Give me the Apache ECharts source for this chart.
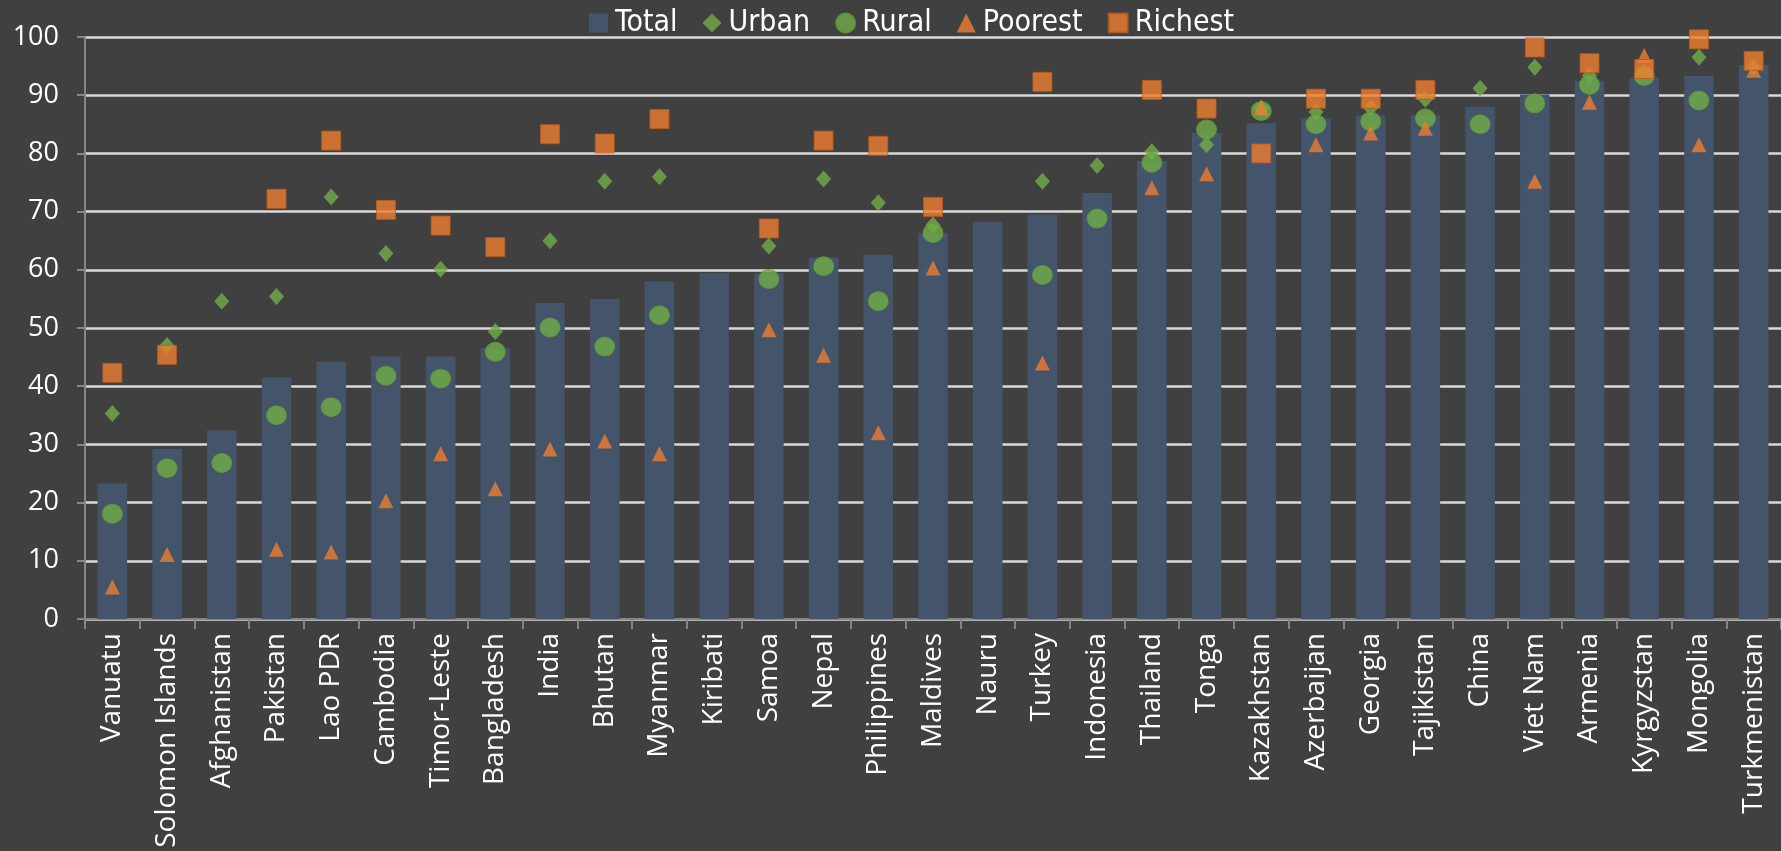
<!DOCTYPE html>
<html>
<head>
<meta charset="utf-8">
<script src="https://cdn.jsdelivr.net/npm/echarts@6/dist/echarts.min.js"></script>
<style>
  html, body { margin: 0; padding: 0; background: #404040; }
  #chart { width: 1781px; height: 851px; }
</style>
</head>
<body>
<div id="chart"></div>
<script>
// 国家
const countries = ['Vanuatu', 'Solomon Islands', 'Afghanistan', 'Pakistan', 'Lao PDR', 'Cambodia',
  'Timor-Leste', 'Bangladesh', 'India', 'Bhutan', 'Myanmar', 'Kiribati', 'Samoa', 'Nepal',
  'Philippines', 'Maldives', 'Nauru', 'Turkey', 'Indonesia', 'Thailand', 'Tonga', 'Kazakhstan',
  'Azerbaijan', 'Georgia', 'Tajikistan', 'China', 'Viet Nam', 'Armenia', 'Kyrgyzstan', 'Mongolia',
  'Turkmenistan'];

const total = [23.3, 29.2, 32.4, 41.5, 44.2, 45.1, 45.1, 46.5, 54.3, 55.0, 58.0, 59.4, 59.4, 62.1,
  62.6, 66.3, 68.2, 69.5, 73.2, 78.7, 83.5, 85.2, 86.0, 86.5, 86.5, 88.0, 90.1, 92.5, 93.0, 93.3,
  95.2];
const urban = [35.3, 47.0, 54.6, 55.4, 72.5, 62.8, 60.1, 49.4, 65.0, 75.2, 76.0, null, 64.1, 75.6,
  71.5, 67.7, null, 75.2, 77.9, 80.3, 81.5, 87.8, 87.1, 87.8, 89.3, 91.2, 94.8, 93.4, 94.0, 96.5,
  94.8];
const rural = [18.1, 25.9, 26.8, 35.0, 36.4, 41.8, 41.3, 45.9, 50.1, 46.8, 52.2, null, 58.4, 60.6,
  54.6, 66.3, null, 59.1, 68.8, 78.4, 84.1, 87.3, 85.0, 85.5, 86.0, 85.0, 88.6, 91.8, 93.3, 89.1,
  null];
const poorest = [5.5, 11.1, null, 12.0, 11.5, 20.3, 28.4, 22.4, 29.2, 30.6, 28.4, null, 49.7, 45.3,
  32.0, 60.3, null, 44.0, null, 74.1, 76.5, 87.8, 81.5, 83.5, 84.3, null, 75.2, 88.8, 96.8, 81.5,
  94.3];
const richest = [42.3, 45.4, null, 72.2, 82.2, 70.3, 67.6, 63.9, 83.3, 81.7, 85.9, null, 67.1, 82.2,
  81.3, 70.8, null, 92.3, null, 90.9, 87.7, 80.0, 89.4, 89.4, 90.9, null, 98.2, 95.5, 94.5, 99.6,
  95.9];

const yMin = 0, yMax = 100, yStep = 10;

const chart = echarts.init(document.getElementById('chart'));

const green = '#70AD47';
const orange = '#ED7D31';

chart.setOption({
  backgroundColor: '#404040',
  animation: false,
  legend: {
    top: 3,
    left: 584,
    itemWidth: 19,
    itemHeight: 19,
    itemGap: 25,
    textStyle: {
      color: '#ffffff',
      fontSize: 30,
      fontFamily: "'Liberation Sans Narrow', 'DejaVu Sans Condensed', sans-serif",
      padding: [0, 0, 0, 2]
    },
    data: [
      { name: 'Total', icon: 'rect' },
      { name: 'Urban', icon: 'diamond' },
      { name: 'Rural', icon: 'circle' },
      { name: 'Poorest', icon: 'triangle' },
      { name: 'Richest', icon: 'rect' }
    ]
  },
  grid: { left: 85, right: 0, top: 37, bottom: 232, containLabel: false, outerBoundsMode: 'none' },
  xAxis: {
    type: 'category',
    data: countries,
    axisLine: { show: true, lineStyle: { color: '#868686', width: 2 } },
    axisTick: { show: true, length: 10, lineStyle: { color: '#868686', width: 2 } },
    axisLabel: {
      interval: 0,
      rotate: 90,
      margin: 14,
      color: '#ffffff',
      fontSize: 28,
      fontFamily: "'Open Sans', sans-serif"
    }
  },
  yAxis: {
    type: 'value',
    min: yMin,
    max: yMax,
    interval: yStep,
    axisLine: { show: true, lineStyle: { color: '#868686', width: 2 } },
    axisTick: { show: true, length: 8, lineStyle: { color: '#868686', width: 2 } },
    axisLabel: {
      margin: 26,
      color: '#ffffff',
      fontSize: 27,
      fontFamily: "'Open Sans', sans-serif"
    },
    splitLine: { show: true, lineStyle: { color: '#d9d9d9', width: 2.5 } }
  },
  series: [
    {
      name: 'Total',
      type: 'bar',
      data: total,
      barWidth: '54%',
      itemStyle: { color: '#44546A' },
      z: 2
    },
    {
      name: 'Urban',
      type: 'scatter',
      data: urban,
      symbol: 'diamond',
      symbolSize: [15, 17],
      itemStyle: { color: green },
      z: 3
    },
    {
      name: 'Rural',
      type: 'scatter',
      data: rural,
      symbol: 'circle',
      symbolSize: [20, 19],
      itemStyle: { color: green, borderColor: '#5f9a3a', borderWidth: 1 },
      z: 4
    },
    {
      name: 'Poorest',
      type: 'scatter',
      data: poorest,
      symbol: 'triangle',
      symbolSize: [15, 15],
      itemStyle: { color: orange },
      z: 5
    },
    {
      name: 'Richest',
      type: 'scatter',
      data: richest,
      symbol: 'rect',
      symbolSize: [19, 19],
      itemStyle: { color: orange, borderColor: '#b85a1e', borderWidth: 1 },
      z: 6
    }
  ]
});
</script>
</body>
</html>
